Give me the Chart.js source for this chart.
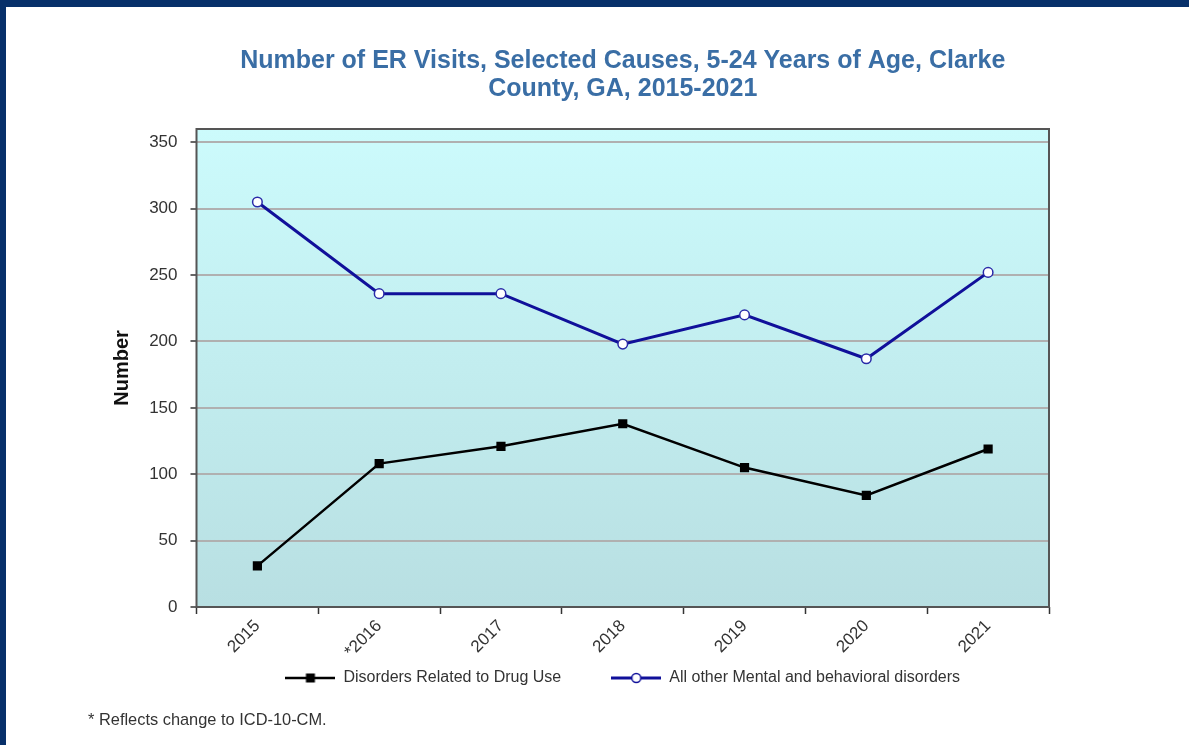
<!DOCTYPE html>
<html>
<head>
<meta charset="utf-8">
<script src="https://cdn.jsdelivr.net/npm/chart.js@4/dist/chart.umd.min.js"></script>
<style>
    html, body { margin: 0; padding: 0; }
    body { width: 1189px; height: 745px; background: #07306a; position: relative; overflow: hidden; }
    #sheet { position: absolute; left: 6px; top: 7px; width: 1183px; height: 738px; background: #fff; }
    #sheet canvas { position: absolute; left: 0; top: 0; }
    #note { position: absolute; left: 82px; top: 703px; font: 16.4px "Liberation Sans", Arial, sans-serif; color: #333; }
</style>
</head>
<body>
<div id="sheet">
    <canvas id="chart" width="1183" height="738"></canvas>
    <div id="note">* Reflects change to ICD-10-CM.</div>
</div>
<script>
const years = ['2015', '*2016', '2017', '2018', '2019', '2020', '2021'];
const drugUse = [31, 108, 121, 138, 105, 84, 119];
const mentalOther = [305, 236, 236, 198, 220, 187, 252];
const yTicks = [0, 50, 100, 150, 200, 250, 300, 350];

Chart.defaults.font.family = '"Liberation Sans", Arial, sans-serif';

// legend swatch: short line with the marker in the middle
function swatch(color, lineWidth, drawMarker) {
    const c = document.createElement('canvas');
    c.width = 50;
    c.height = 14;
    const g = c.getContext('2d');
    g.strokeStyle = color;
    g.lineWidth = lineWidth;
    g.beginPath();
    g.moveTo(0, 7);
    g.lineTo(50, 7);
    g.stroke();
    drawMarker(g);
    return c;
}

const drugSwatch = swatch('#000', 2.5, g => {
    g.fillStyle = '#000';
    g.fillRect(20.5, 2.5, 9, 9);
});
const mentalSwatch = swatch('#10109a', 3, g => {
    g.fillStyle = '#fff';
    g.strokeStyle = '#10109a';
    g.lineWidth = 1.5;
    g.beginPath();
    g.arc(25, 7, 4.5, 0, Math.PI * 2);
    g.fill();
    g.stroke();
});

const plotFrame = {
    id: 'plotFrame',
    afterLayout(chart) {
        // pull the legend up closer to the rotated year labels
        const lg = chart.legend;
        const top = chart.chartArea.bottom + 13;
        const h = lg.bottom - lg.top;
        lg.top = top;
        lg.bottom = top + h;
    },
    beforeDraw(chart) {
        const { ctx, chartArea: a } = chart;
        const grad = ctx.createLinearGradient(0, a.top, 0, a.bottom);
        grad.addColorStop(0, '#ccfbfc');
        grad.addColorStop(1, '#b8dfe2');
        ctx.save();
        ctx.fillStyle = grad;
        ctx.fillRect(a.left, a.top, a.right - a.left, a.bottom - a.top);
        ctx.restore();
    },
    beforeDatasetsDraw(chart) {
        const { ctx, chartArea: a } = chart;
        ctx.save();
        ctx.strokeStyle = '#555';
        ctx.lineWidth = 2;
        ctx.strokeRect(a.left, a.top, a.right - a.left, a.bottom - a.top);
        ctx.restore();
    }
};

new Chart(document.getElementById('chart'), {
    type: 'line',
    data: {
        labels: years,
        datasets: [{
            label: 'Disorders Related to Drug Use',
            data: drugUse,
            borderColor: '#000',
            backgroundColor: '#000',
            borderWidth: 2.5,
            pointStyle: 'rect',
            pointRadius: 6.5,
            pointBorderWidth: 0,
            pointBackgroundColor: '#000',
            tension: 0
        }, {
            label: 'All other Mental and behavioral disorders',
            data: mentalOther,
            borderColor: '#10109a',
            backgroundColor: '#fff',
            borderWidth: 3,
            pointStyle: 'circle',
            pointRadius: 4.8,
            pointBorderWidth: 1.5,
            pointBackgroundColor: '#fff',
            pointBorderColor: '#2a2aa8',
            tension: 0
        }]
    },
    options: {
        responsive: false,
        animation: false,
        layout: {
            padding: { left: 0, right: 140, top: 0, bottom: 12 }
        },
        scales: {
            x: {
                offset: true,
                border: { display: false },
                grid: {
                    offset: true,
                    drawOnChartArea: false,
                    tickLength: 7,
                    tickColor: '#333',
                    tickWidth: 1.5
                },
                ticks: {
                    minRotation: 45,
                    maxRotation: 45,
                    padding: 2,
                    color: '#333',
                    font: { size: 17 }
                },
                afterFit: scale => { scale.height = 50; }
            },
            y: {
                min: 0,
                max: 360,
                border: { display: false },
                grid: {
                    color: '#b0b0b0',
                    lineWidth: 2,
                    tickLength: 6,
                    tickColor: '#333',
                    tickWidth: 1.5
                },
                ticks: {
                    stepSize: 50,
                    includeBounds: false,
                    padding: 13,
                    color: '#333',
                    font: { size: 17 }
                },
                afterBuildTicks: scale => {
                    scale.ticks = yTicks.map(v => ({ value: v }));
                },
                title: {
                    display: true,
                    text: 'Number',
                    color: '#111',
                    padding: { top: 104, bottom: 0 },
                    font: { size: 20, weight: 'bold' }
                },
                afterFit: scale => { scale.width = 190.5; }
            }
        },
        plugins: {
            title: {
                display: true,
                fullSize: false,
                text: ['Number of ER Visits, Selected Causes, 5-24 Years of Age, Clarke', 'County, GA, 2015-2021'],
                color: '#3a6ea5',
                font: { size: 25, weight: 'bold', lineHeight: 1.12 },
                padding: { top: 40, bottom: 26 }
            },
            legend: {
                position: 'bottom',
                fullSize: false,
                labels: {
                    usePointStyle: true,
                    pointStyleWidth: 50,
                    padding: 50,
                    color: '#333',
                    font: { size: 16 },
                    generateLabels: chart => chart.data.datasets.map((ds, i) => ({
                        text: ds.label,
                        pointStyle: i === 0 ? drugSwatch : mentalSwatch,
                        fillStyle: ds.borderColor,
                        strokeStyle: ds.borderColor,
                        lineWidth: 0,
                        fontColor: '#333',
                        datasetIndex: i
                    }))
                }
            },
            tooltip: { enabled: false }
        }
    },
    plugins: [plotFrame]
});
</script>
</body>
</html>
